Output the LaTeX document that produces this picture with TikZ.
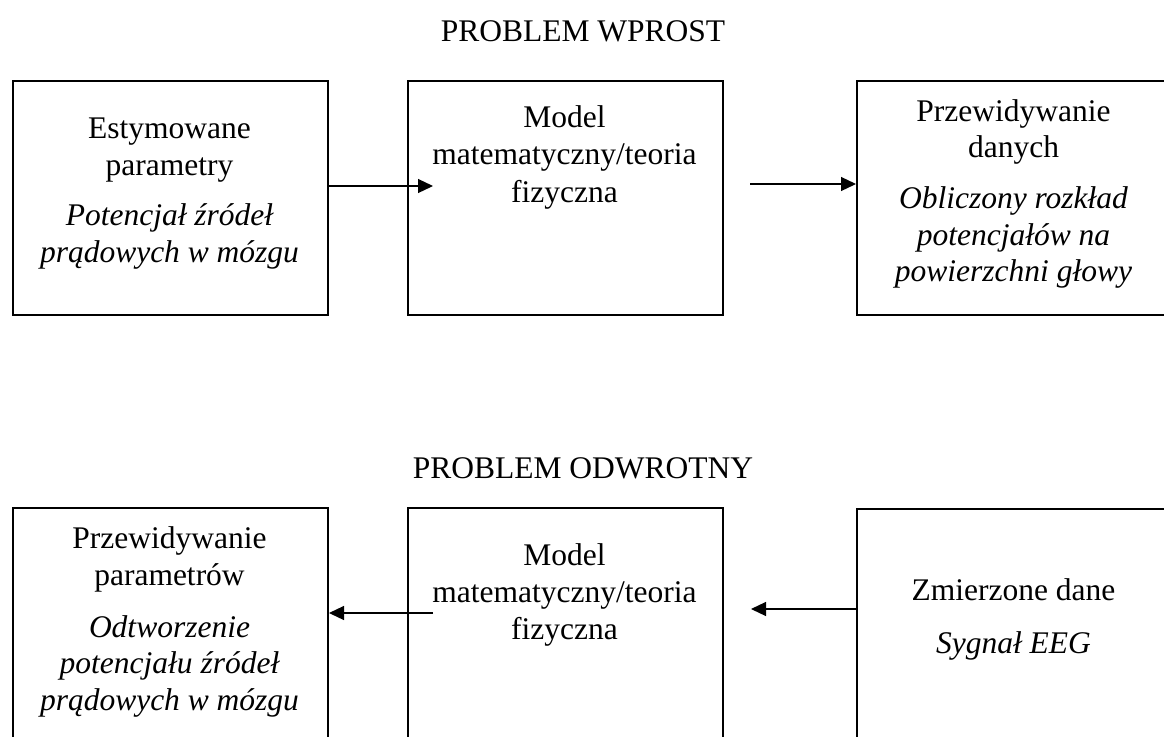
\documentclass[tikz,border=0pt]{standalone}
\usepackage{fontspec}
\setmainfont{Liberation Serif}
\usetikzlibrary{arrows.meta}
\begin{document}
\begin{tikzpicture}[x=1pt,y=-1pt,
  box/.style={draw, line width=2pt, minimum width=315pt, minimum height=234pt, inner sep=0pt, anchor=north west},
  txt/.style={anchor=base, inner sep=0pt, font=\fontsize{31.5}{37}\selectfont},
  itx/.style={txt, font=\fontsize{31.5}{37}\selectfont\itshape},
  arr/.style={-{Triangle[length=15pt,width=14pt]}, line width=1.2pt}]
\useasboundingbox (0,0) rectangle (1164,736);
% titles
\node[txt] (t1) at (583,41) {PROBLEM WPROST};
\node[txt] (t2) at (583,478) {PROBLEM ODWROTNY};
% boxes
\node[box] (L1) at (12,80) {};
\node[box] (M1) at (407,80) {};
\node[box] (R1) at (856,80) {};
\node[box] (L2) at (12,507) {};
\node[box] (M2) at (407,507) {};
\node[box] (R2) at (856,508) {};
% top-left text
\node[txt] (l1a) at (169.5,138) {Estymowane};
\node[txt] (l1b) at (169.5,175) {parametry};
\node[itx] (l1c) at (169.5,225) {Potencjał źródeł};
\node[itx] (l1d) at (169.5,262) {prądowych w mózgu};
% top-middle text
\node[txt] (m1a) at (564.5,127) {Model};
\node[txt] (m1b) at (564.5,164) {matematyczny/teoria};
\node[txt] (m1c) at (564.5,202) {fizyczna};
% top-right text
\node[txt] (r1a) at (1013.5,121) {Przewidywanie};
\node[txt] (r1b) at (1013.5,157) {danych};
\node[itx] (r1c) at (1013.5,208) {Obliczony rozkład};
\node[itx] (r1d) at (1013.5,245) {potencjałów na};
\node[itx] (r1e) at (1013.5,281) {powierzchni głowy};
% bottom-left text
\node[txt] (l2a) at (169.5,548) {Przewidywanie};
\node[txt] (l2b) at (169.5,585) {parametrów};
\node[itx] (l2c) at (169.5,637) {Odtworzenie};
\node[itx] (l2d) at (169.5,673) {potencjału źródeł};
\node[itx] (l2e) at (169.5,710) {prądowych w mózgu};
% bottom-middle text
\node[txt] (m2a) at (564.5,565) {Model};
\node[txt] (m2b) at (564.5,602) {matematyczny/teoria};
\node[txt] (m2c) at (564.5,639) {fizyczna};
% bottom-right text
\node[txt] (r2a) at (1013.5,600) {Zmierzone dane};
\node[itx] (r2b) at (1013.5,653) {Sygnał EEG};
% arrows
\coordinate (a1) at (433,186);
\draw[arr] (L1.east |- a1) -- (a1);
\coordinate (a2) at (750,184);
\draw[arr] (a2) -- (a2 -| R1.west);
\coordinate (b1) at (433,613);
\draw[arr] (b1) -- (b1 -| L2.east);
\coordinate (b2) at (751,609);
\draw[arr] (R2.west |- b2) -- (b2);
\end{tikzpicture}
\end{document}
